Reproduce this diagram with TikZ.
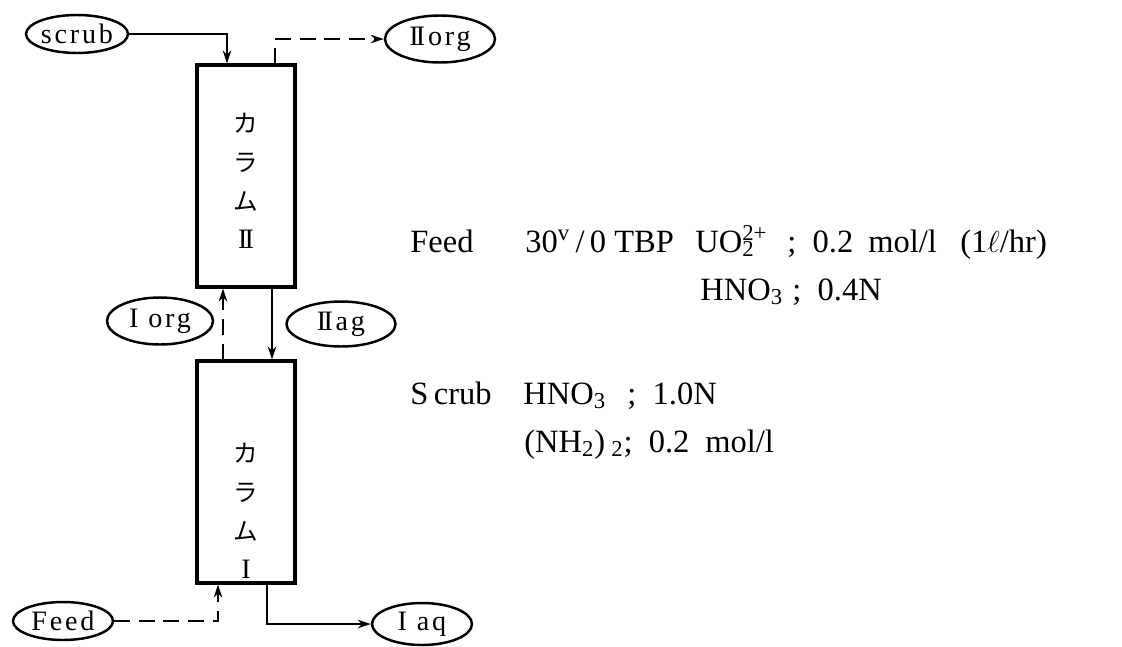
\documentclass[tikz,border=0pt]{standalone}
\usepackage{amsmath}
\usepackage{fontspec}
\setmainfont{Liberation Serif}
\newfontfamily\jpfont{Noto Sans CJK JP}
\usetikzlibrary{arrows.meta,shapes.geometric,positioning}
\newcommand{\romII}{I\kern-0.1em I}

\begin{document}
\begin{tikzpicture}[x=0.02cm, y=-0.02cm, font=\fontsize{18.5}{22}\selectfont,
  >={Stealth[length=2.6mm, width=1.7mm]},
  column/.style={rectangle, draw, line width=1.8pt, minimum width=1.96cm,
                 minimum height=4.44cm, inner sep=0pt},
  port/.style={ellipse, draw, line width=1.4pt, inner sep=0pt, minimum height=0.8cm,
               font=\fontsize{16}{18}\selectfont\addfontfeature{LetterSpace=10}},
  flow/.style={line width=0.8pt},
  orgflow/.style={flow, dash pattern=on 9pt off 5pt},
  colname/.style={font=\fontsize{14}{22}\selectfont\jpfont, align=center},
  cond/.style={anchor=base west, inner sep=0pt}]
  \useasboundingbox (0,0) rectangle (1122,646);

  % the two columns
  \node[column] (col2) at (246,176) {};
  \node[column] (col1) at (246,472) {};
  \node[colname] (name2) at (246,181)
    {カ\\ラ\\ム\\{\rmfamily\fontsize{16}{22}\selectfont\romII}};
  \node[colname] (name1) at (246,511)
    {カ\\ラ\\ム\\{\rmfamily\fontsize{16}{22}\selectfont I}};

  % streams in and out
  \node[port, minimum width=2.04cm, minimum height=0.76cm] (scrub) at (77,34) {scrub};
  \node[port, minimum width=2.2cm, minimum height=0.94cm] (IIorg) at (440,39) {\romII org};
  \node[port, minimum width=2.12cm, minimum height=0.94cm] (Iorg) at (160,321) {I org};
  \node[port, minimum width=2.18cm, minimum height=0.9cm] (IIag) at (341,324) {\romII ag};
  \node[port, minimum width=2.0cm, minimum height=0.76cm] (feed) at (63,621) {Feed};
  \node[port, minimum width=2.0cm, minimum height=0.84cm] (Iaq) at (422,624) {I aq};

  \draw[flow,->] (scrub.east) -| ([xshift=-0.38cm]col2.north);
  \draw[orgflow,->] ([xshift=0.58cm]col2.north) |- (IIorg.west);
  \draw[orgflow,->] ([xshift=-0.46cm]col1.north) -- ([xshift=-0.46cm]col2.south);
  \draw[flow,->] ([xshift=0.52cm]col2.south) -- ([xshift=0.52cm]col1.north);
  \draw[orgflow,->] (feed.east) -| ([xshift=-0.56cm]col1.south);
  \draw[flow,->] ([xshift=0.42cm]col1.south) |- (Iaq.west);

  % feed conditions
  \node[cond] (feedlbl) at (410,252) {Feed};
  \node[cond] (feedsolv) at (525,252) {30\textsuperscript{v}\,/\,0 TBP};
  \node[cond] (feedU) at (695,252) {UO\rlap{$_{\text{2}}$}$^{\text{2+}}$};
  \node[cond] (feedUc) at (787,252) {;\ \ 0.2};
  \node[cond] (feedUu) at (868,252) {mol/l};
  \node[cond] (feedrate) at (960,252) {(1$\ell$/hr)};
  \node[cond] (feedHN) at (700,300) {HNO$_{\text{3}}$};
  \node[cond] (feedHNc) at (792,300) {;\ \ 0.4N};
  % scrub conditions
  \node[cond] (scrublbl) at (410,404) {S\,crub};
  \node[cond] (scrubHN) at (523,404) {HNO$_{\text{3}}$};
  \node[cond] (scrubHNc) at (627,404) {;\ \ 1.0N};
  \node[cond] (scrubNH) at (524,452) {(NH$_{\text{2}}$)};
  \node[cond] (scrubNHc) at (611,452) {$_{\text{2}}$;\ \ 0.2};
  \node[cond] (scrubNHu) at (705,452) {mol/l};
\end{tikzpicture}
\end{document}
